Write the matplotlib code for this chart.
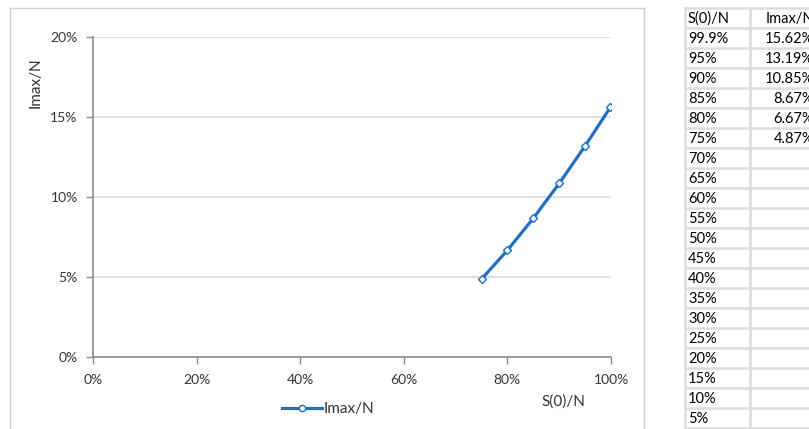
import matplotlib
matplotlib.use("Agg")
import matplotlib.pyplot as plt
from matplotlib.lines import Line2D
from matplotlib.ticker import PercentFormatter

# susceptible fraction at start vs. peak infected fraction
s0 = [0.999, 0.95, 0.90, 0.85, 0.80, 0.75]
imax = [0.1562, 0.1319, 0.1085, 0.0867, 0.0667, 0.0487]

s0_labels = ["99.9%", "95%", "90%", "85%", "80%", "75%", "70%", "65%", "60%", "55%",
             "50%", "45%", "40%", "35%", "30%", "25%", "20%", "15%", "10%", "5%"]
imax_labels = ["15.62%", "13.19%", "10.85%", "8.67%", "6.67%", "4.87%"]

plt.rcParams['font.family'] = ['Lato', 'DejaVu Sans']
W, H = 809, 429
fig = plt.figure(figsize=(W / 100, H / 100), dpi=100)

def fx(px):
    return px / W

def fy(py):
    return 1 - py / H

# chart frame
grey = "#d0d0d0"
fig.add_artist(Line2D([fx(10), fx(10)], [fy(8), fy(440)], color=grey, lw=1))
fig.add_artist(Line2D([fx(10), fx(643.5)], [fy(8), fy(8)], color=grey, lw=1))
fig.add_artist(Line2D([fx(643.5), fx(643.5)], [fy(8), fy(440)], color=grey, lw=1))

ax = fig.add_axes([fx(93), fy(357), fx(611) - fx(93), fy(37) - fy(357)])
blue = "#1f6fc5"
ax.plot(s0, imax, color=blue, lw=2.3, marker="D", markersize=4.5,
        markerfacecolor="white", markeredgecolor=blue, markeredgewidth=1, zorder=3)

ax.set_xlim(0, 1)
ax.set_ylim(0, 0.2)
ax.set_xticks([0, 0.2, 0.4, 0.6, 0.8, 1.0])
ax.set_yticks([0, 0.05, 0.10, 0.15, 0.20])
ax.xaxis.set_major_formatter(PercentFormatter(1.0, decimals=0))
ax.yaxis.set_major_formatter(PercentFormatter(1.0, decimals=0))
ax.grid(axis="y", color="#d9d9d9", lw=1.2)
ax.set_axisbelow(True)
for side in ["top", "right"]:
    ax.spines[side].set_visible(False)
for side in ["left", "bottom"]:
    ax.spines[side].set_color("#8c8c8c")
    ax.spines[side].set_linewidth(1.2)
ax.tick_params(axis="both", colors="#8c8c8c", length=5, width=1, labelsize=10,
               labelcolor="#333333")
ax.tick_params(axis="x", pad=7)
ax.tick_params(axis="y", pad=6)

fig.text(fx(36), fy(83), "Imax/N", rotation=90, ha="center", va="center",
         fontsize=11, color="#333333")
fig.text(fx(563), fy(402), "S(0)/N", ha="center", va="center",
         fontsize=11, color="#333333")

handle = Line2D([], [], color=blue, lw=2.3, marker="o", markersize=4.5,
                markerfacecolor="white", markeredgecolor=blue)
fig.legend([handle], ["Imax/N"], loc="center", bbox_to_anchor=(fx(328), fy(409)),
           frameon=False, handlelength=2.6, handletextpad=0.1, fontsize=11,
           labelcolor="#333333")

# data table on the right
row_h = 20
top = 8
rows = ["S(0)/N"] + s0_labels
col2 = ["Imax/N"] + imax_labels + [""] * (len(s0_labels) - len(imax_labels))
cell = "#dcdcdc"
for i in range(len(rows) + 1):
    y = top + i * row_h
    fig.add_artist(Line2D([fx(685), fx(815)], [fy(y), fy(y)], color=cell, lw=1.8))
for x in [685, 750]:
    fig.add_artist(Line2D([fx(x), fx(x)], [fy(top), fy(440)], color=cell, lw=1.8))
for i, (a, b) in enumerate(zip(rows, col2)):
    yc = top + i * row_h + row_h / 2 + 1
    fig.text(fx(688), fy(yc), a, ha="left", va="center", fontsize=10.5, color="black")
    fig.text(fx(814), fy(yc), b, ha="right", va="center", fontsize=10.5, color="black")

fig.savefig("out.png", dpi=100)
